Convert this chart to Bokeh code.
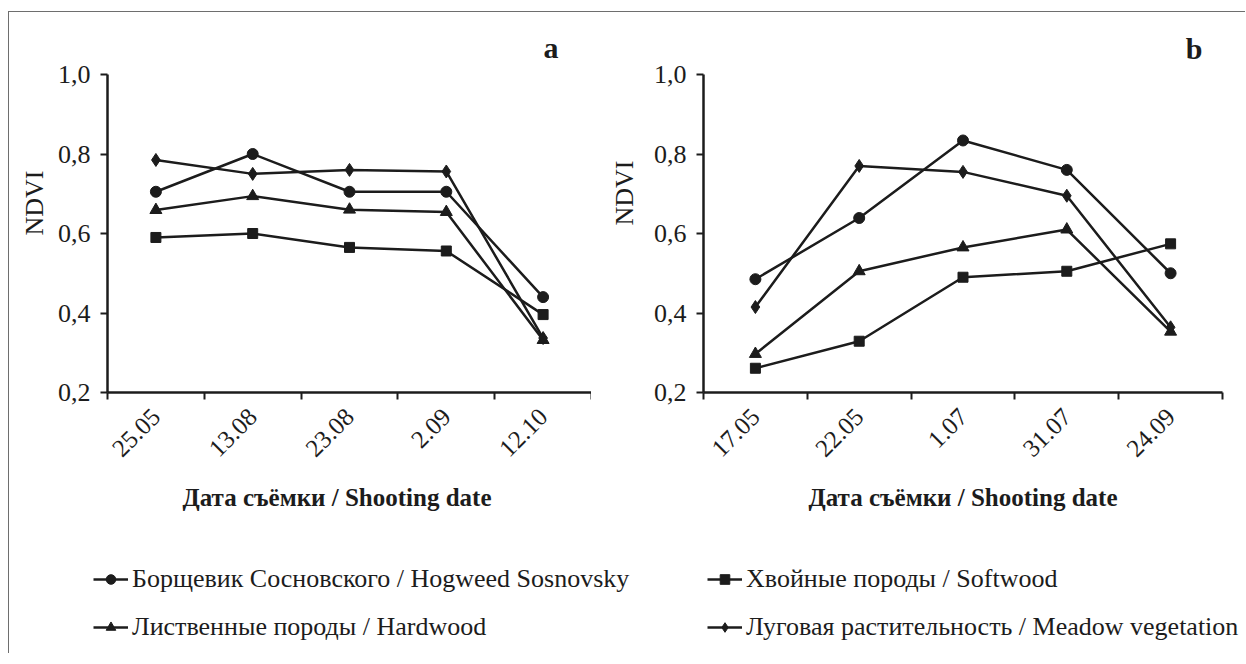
import math
from bokeh.plotting import figure
from bokeh.layouts import row, column
from bokeh.models import (Range1d, FixedTicker, CustomJSTickFormatter, Legend, LegendItem, Title)
from bokeh.embed import file_html
from bokeh.resources import INLINE

# ---------------- data ----------------
dates_a = ["25.05", "13.08", "23.08", "2.09", "12.10"]
dates_b = ["17.05", "22.05", "1.07", "31.07", "24.09"]

hogweed_a = [0.705, 0.800, 0.705, 0.705, 0.440]
softwood_a = [0.590, 0.600, 0.565, 0.556, 0.396]
hardwood_a = [0.659, 0.694, 0.660, 0.654, 0.332]
meadow_a = [0.785, 0.750, 0.760, 0.756, 0.337]

hogweed_b = [0.485, 0.639, 0.834, 0.760, 0.500]
softwood_b = [0.261, 0.329, 0.490, 0.505, 0.574]
hardwood_b = [0.297, 0.505, 0.565, 0.610, 0.353]
meadow_b = [0.415, 0.770, 0.755, 0.695, 0.364]

y_ticks = [0.2, 0.4, 0.6, 0.8, 1.0]

names = {
    "hog": "Борщевик Сосновского / Hogweed Sosnovsky",
    "soft": "Хвойные породы / Softwood",
    "hard": "Лиственные породы / Hardwood",
    "mead": "Луговая растительность / Meadow vegetation",
}
x_title = "Дата съёмки / Shooting date"
y_title = "NDVI"

FONT = "Liberation Serif"
INK = "#1c1c1c"

HF = 533


def make_fig(width, left, right, top, frame_h, labels):
    n = len(labels)
    p = figure(width=width, height=HF, output_backend="svg", toolbar_location=None,
               x_range=Range1d(0, n), y_range=Range1d(0.2, 1.0),
               min_border_left=left, min_border_right=right,
               min_border_top=top, min_border_bottom=HF - top - frame_h)
    p.outline_line_color = None
    p.grid.visible = False
    p.background_fill_color = "white"
    p.border_fill_color = "white"
    # x axis
    xa = p.xaxis[0]
    xa.ticker = FixedTicker(ticks=[i + 0.5 for i in range(n)],
                            minor_ticks=list(range(n + 1)))
    xa.formatter = CustomJSTickFormatter(args=dict(labels=labels),
                                         code="return labels[Math.floor(tick)];")
    xa.major_tick_in = 0
    xa.major_tick_out = 0
    xa.minor_tick_in = 0
    xa.minor_tick_out = 7
    xa.minor_tick_line_width = 2
    xa.minor_tick_line_color = INK
    xa.axis_line_width = 2.5
    xa.axis_line_color = INK
    xa.major_label_orientation = math.pi / 4
    xa.major_label_text_font = FONT
    xa.major_label_text_font_size = "25px"
    xa.major_label_text_color = INK
    xa.major_label_standoff = 13
    # y axis
    ya = p.yaxis[0]
    ya.ticker = FixedTicker(ticks=y_ticks, minor_ticks=[])
    ya.formatter = CustomJSTickFormatter(code="return tick.toFixed(1).replace('.', ',');")
    ya.major_tick_in = 0
    ya.major_tick_out = 7
    ya.major_tick_line_width = 2
    ya.major_tick_line_color = INK
    ya.axis_line_width = 2.5
    ya.axis_line_color = INK
    ya.major_label_text_font = FONT
    ya.major_label_text_font_size = "26px"
    ya.major_label_text_color = INK
    ya.major_label_standoff = 10
    return p


def add_series(p, vals, marker, size):
    xs = [i + 0.5 for i in range(len(vals))]
    lr = p.line(xs, vals, line_color=INK, line_width=2.5)
    sr = p.scatter(xs, vals, marker=marker, size=size,
                   fill_color=INK, line_color=INK, line_width=1)
    return [lr, sr]


def decorate(p, letter, letter_offset, letter_standoff, ndvi_offset, ndvi_standoff,
             xt_align, xt_offset, xt_standoff):
    p.title.text = letter
    p.title.align = "right"
    p.title.offset = letter_offset
    p.title.standoff = letter_standoff
    p.title.text_font = FONT
    p.title.text_font_size = "30px"
    p.title.text_font_style = "bold"
    p.title.text_color = INK
    p.add_layout(Title(text=y_title, align="left", offset=ndvi_offset,
                       standoff=ndvi_standoff, text_font=FONT, text_font_size="26px",
                       text_font_style="normal", text_color=INK), "left")
    p.add_layout(Title(text=x_title, align=xt_align, offset=xt_offset,
                       standoff=xt_standoff, text_font=FONT, text_font_size="25px",
                       text_font_style="bold", text_color=INK), "below")


# ---------------- panel a ----------------
pa = make_fig(582, 98, 0, 62, 318, dates_a)
add_series(pa, hogweed_a, "circle", 11)
add_series(pa, softwood_a, "square", 10)
add_series(pa, hardwood_a, "triangle", 12)
add_series(pa, meadow_a, "diamond", 13)
decorate(pa, "a", 33, 22, 157, 12, "left", 75, 28)

# ---------------- panel b ----------------
pb = make_fig(654, 112, 23, 43, 342, dates_b)
add_series(pb, hogweed_b, "circle", 11)
add_series(pb, softwood_b, "square", 10)
add_series(pb, hardwood_b, "triangle", 12)
add_series(pb, meadow_b, "diamond", 13)
decorate(pb, "b", 20, 19, 167, 24, "center", 0, 28)

# ---------------- legend strip ----------------
# the strip re-uses the panel-b series as legend sources; its ranges keep
# the series themselves outside the (empty) strip frame, so only the keys show
pl = figure(width=1236, height=108, output_backend="svg", toolbar_location=None,
            x_axis_location=None, y_axis_location=None,
            x_range=Range1d(-3, -2), y_range=Range1d(-3, -2), min_border=0)
pl.outline_line_color = None
pl.grid.visible = False


def legend_item(label, vals, marker, size):
    return LegendItem(label=label, renderers=add_series(pl, vals, marker, size))


def make_legend(items, loc):
    return Legend(items=items, location=loc, orientation="vertical",
                  glyph_width=35, glyph_height=24, label_height=24, label_standoff=4,
                  spacing=18, padding=0, margin=0,
                  border_line_color=None, background_fill_alpha=0,
                  label_text_font=FONT, label_text_font_size="26px",
                  label_text_color=INK)


pl.add_layout(make_legend([legend_item(names["hog"], hogweed_b, "circle", 11),
                           legend_item(names["hard"], hardwood_b, "triangle", 12)],
                          (84, 11)), "center")
pl.add_layout(make_legend([legend_item(names["soft"], softwood_b, "square", 10),
                           legend_item(names["mead"], meadow_b, "diamond", 13)],
                          (698, 11)), "center")

layout = column(row(pa, pb), pl,
                styles={"border-top": "1px solid #6e6e6e",
                        "border-left": "1px solid #6e6e6e",
                        "margin-top": "11px", "margin-left": "8px"})

open("out.html", "w").write(file_html(layout, INLINE))
